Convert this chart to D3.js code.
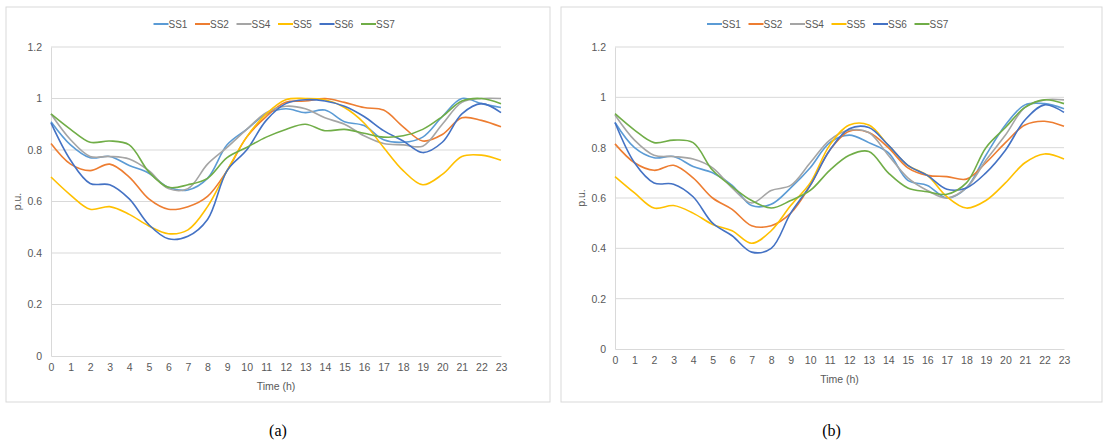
<!DOCTYPE html>
<html>
<head>
<meta charset="utf-8">
<script src="https://cdn.jsdelivr.net/npm/d3@7"></script>
<style>
body { margin: 0; background: #fff; }
</style>
</head>
<body>
<div id="main"></div>
<script>
"use strict";

const hours = d3.range(24);
const seriesNames = ["SS1", "SS2", "SS4", "SS5", "SS6", "SS7"];
const seriesColors = ["#5B9BD5", "#ED7D31", "#A5A5A5", "#FFC000", "#4472C4", "#70AD47"];
const yTicks = [0, 0.2, 0.4, 0.6, 0.8, 1, 1.2];

const dataA = [
    [0.91,0.82,0.77,0.775,0.74,0.71,0.655,0.645,0.69,0.82,0.88,0.94,0.96,0.945,0.955,0.91,0.895,0.84,0.83,0.85,0.93,1.0,0.98,0.965],
    [0.825,0.745,0.72,0.745,0.695,0.61,0.57,0.58,0.62,0.72,0.85,0.93,0.985,0.99,1.0,0.985,0.965,0.955,0.89,0.835,0.86,0.925,0.915,0.89],
    [0.94,0.84,0.775,0.775,0.765,0.72,0.65,0.65,0.745,0.81,0.88,0.945,0.97,0.96,0.925,0.9,0.855,0.825,0.82,0.815,0.9,0.985,1.0,1.0],
    [0.695,0.625,0.57,0.58,0.55,0.505,0.475,0.49,0.58,0.72,0.85,0.94,0.995,1.0,0.995,0.965,0.905,0.81,0.72,0.665,0.705,0.775,0.78,0.76],
    [0.905,0.76,0.67,0.665,0.61,0.51,0.455,0.465,0.53,0.72,0.8,0.915,0.98,0.995,0.99,0.97,0.93,0.875,0.835,0.79,0.83,0.94,0.98,0.945],
    [0.94,0.88,0.83,0.835,0.82,0.715,0.655,0.665,0.69,0.77,0.81,0.85,0.88,0.9,0.875,0.88,0.865,0.85,0.855,0.88,0.93,0.99,1.0,0.98]
];

const dataB = [
    [0.9,0.8,0.76,0.765,0.725,0.7,0.65,0.57,0.575,0.64,0.72,0.82,0.85,0.82,0.78,0.67,0.65,0.6,0.64,0.77,0.89,0.97,0.975,0.955],
    [0.815,0.74,0.71,0.73,0.68,0.6,0.555,0.49,0.49,0.54,0.65,0.79,0.865,0.86,0.8,0.72,0.69,0.685,0.675,0.74,0.82,0.89,0.905,0.885],
    [0.93,0.83,0.77,0.765,0.755,0.72,0.64,0.58,0.63,0.65,0.74,0.83,0.87,0.86,0.77,0.68,0.63,0.6,0.64,0.75,0.85,0.96,0.99,0.99],
    [0.685,0.62,0.56,0.57,0.54,0.495,0.47,0.42,0.47,0.57,0.66,0.81,0.89,0.89,0.81,0.73,0.69,0.605,0.56,0.59,0.66,0.74,0.775,0.755],
    [0.9,0.74,0.66,0.655,0.605,0.5,0.45,0.385,0.4,0.54,0.65,0.79,0.875,0.88,0.81,0.73,0.69,0.635,0.64,0.7,0.79,0.91,0.97,0.94],
    [0.935,0.87,0.82,0.83,0.82,0.71,0.645,0.59,0.56,0.59,0.63,0.71,0.77,0.785,0.7,0.64,0.625,0.615,0.66,0.8,0.88,0.96,0.99,0.975]
];

const svg = d3.select("#main").append("svg")
    .attr("width", 1105).attr("height", 443)
    .style("font-family", "'Liberation Sans', Arial, sans-serif");

// one panel: frame, grid, axes, lines, legend, caption
function drawPanel(data, box, plot, caption) {
    const g = svg.append("g");
    g.append("rect")
        .attr("x", box.x).attr("y", box.y).attr("width", box.w).attr("height", box.h)
        .attr("fill", "#fff").attr("stroke", "#d9d9d9");

    const x = d3.scaleLinear().domain([0, 23]).range([plot.x0, plot.x1]);
    const y = d3.scaleLinear().domain([0, 1.2]).range([plot.y0, plot.y1]);

    // gridlines
    g.append("g").selectAll("line").data(yTicks.slice(1)).join("line")
        .attr("x1", plot.x0).attr("x2", plot.x1)
        .attr("y1", d => y(d)).attr("y2", d => y(d))
        .attr("stroke", "#d9d9d9");

    const xAxis = g.append("g").attr("transform", `translate(0,${plot.y0})`)
        .call(d3.axisBottom(x).tickValues(hours).tickSize(0).tickPadding(8));
    xAxis.select(".domain").attr("stroke", "#d9d9d9");
    const yAxis = g.append("g").attr("transform", `translate(${plot.x0},0)`)
        .call(d3.axisLeft(y).tickValues(yTicks).tickSize(0).tickPadding(9).tickFormat(d3.format("")));
    yAxis.select(".domain").attr("stroke", "#d9d9d9");
    g.selectAll(".tick text").attr("fill", "#595959").style("font-size", "10.5px")
        .style("font-family", "'Liberation Sans', Arial, sans-serif");

    g.append("text").attr("x", (plot.x0 + plot.x1) / 2).attr("y", plot.y0 + 34)
        .attr("text-anchor", "middle").attr("fill", "#595959").style("font-size", "10.5px")
        .text("Time (h)");
    g.append("text")
        .attr("transform", `translate(${plot.x0 - 30},${(plot.y0 + plot.y1) / 2}) rotate(-90)`)
        .attr("text-anchor", "middle").attr("fill", "#595959").style("font-size", "10.5px")
        .text("p.u.");

    const line = d3.line().x((d, i) => x(hours[i])).y(d => y(d)).curve(d3.curveCatmullRom.alpha(0.5));
    g.append("g").selectAll("path").data(data).join("path")
        .attr("d", line).attr("fill", "none")
        .attr("stroke", (d, i) => seriesColors[i]).attr("stroke-width", 1.6);

    // legend
    const itemW = 41.5;
    const lx = box.x + box.w / 2 - itemW * seriesNames.length / 2;
    const leg = g.append("g").selectAll("g").data(seriesNames).join("g")
        .attr("transform", (d, i) => `translate(${lx + i * itemW},24)`);
    leg.append("line").attr("x1", 0).attr("x2", 15)
        .attr("stroke", (d, i) => seriesColors[i]).attr("stroke-width", 2);
    leg.append("text").attr("x", 15).attr("y", 4).attr("fill", "#595959")
        .style("font-size", "10px").text(d => d);

    svg.append("text").attr("x", box.x + box.w / 2).attr("y", 436)
        .attr("text-anchor", "middle").style("font-family", "'Liberation Serif', 'Times New Roman', serif")
        .style("font-size", "16px").text(caption);
}

drawPanel(dataA, { x: 6, y: 7, w: 544, h: 395 }, { x0: 51, x1: 501, y0: 356, y1: 47 }, "(a)");
drawPanel(dataB, { x: 561, y: 7, w: 541, h: 395 }, { x0: 615, x1: 1064, y0: 349, y1: 47 }, "(b)");
</script>
</body>
</html>
